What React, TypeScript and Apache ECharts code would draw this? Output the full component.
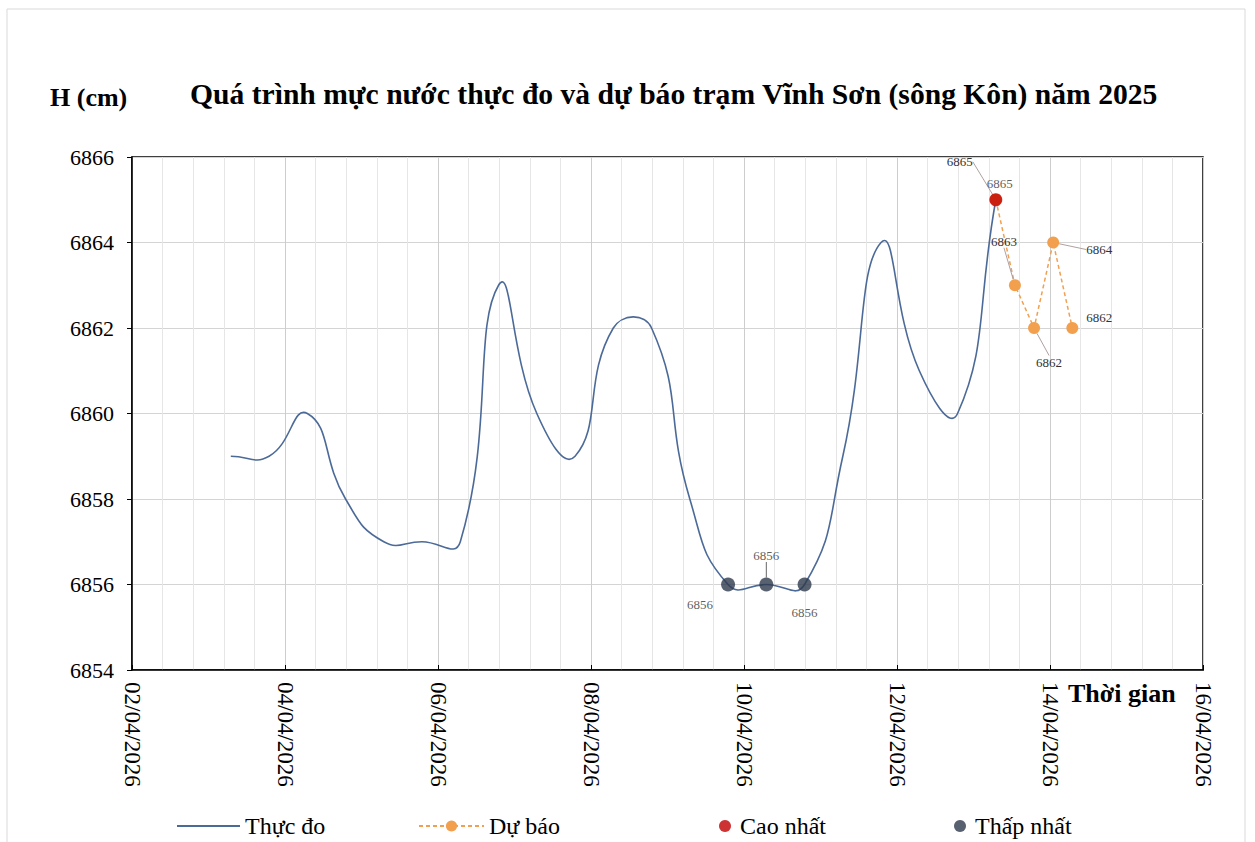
import { useEffect, useRef } from "react";
import * as echarts from "echarts";

const obsTimes = [
  "2026-04-03 07:00", "2026-04-03 19:00", "2026-04-04 07:00", "2026-04-04 19:00",
  "2026-04-05 07:00", "2026-04-05 19:00", "2026-04-06 07:00", "2026-04-06 19:00",
  "2026-04-07 07:00", "2026-04-07 19:00", "2026-04-08 07:00", "2026-04-08 19:00",
  "2026-04-09 07:00", "2026-04-09 19:00", "2026-04-10 07:00", "2026-04-10 19:00",
  "2026-04-11 07:00", "2026-04-11 19:00", "2026-04-12 07:00", "2026-04-12 19:00",
  "2026-04-13 07:00",
];
const obsValues = [
  6859, 6859, 6860, 6858, 6857, 6857, 6857, 6863, 6860, 6859, 6862, 6862,
  6858, 6856, 6856, 6856, 6859, 6864, 6861, 6860, 6865,
];

const fcTimes = ["2026-04-13 07:00", "2026-04-13 13:00", "2026-04-13 19:00", "2026-04-14 01:00", "2026-04-14 07:00"];
const fcValues = [6865, 6863, 6862, 6864, 6862];

const maxTimes = ["2026-04-13 07:00"];
const maxValues = [6865];

const minTimes = ["2026-04-09 19:00", "2026-04-10 07:00", "2026-04-10 19:00"];
const minValues = [6856, 6856, 6856];

const xMin = 2;
const xMax = 16;
const xStep = 2;
const yMin = 6854;
const yMax = 6866;
const yStep = 2;

const titleText = "Quá trình mực nước thực đo và dự báo trạm Vĩnh Sơn (sông Kôn) năm 2025";
const yName = "H (cm)";
const xName = "Thời gian";
const seriesNames = ["Thực đo", "Dự báo", "Cao nhất", "Thấp nhất"];

function toDay(t: string): number {
  const d = parseInt(t.slice(8, 10), 10);
  const h = parseInt(t.slice(11, 13), 10);
  const m = parseInt(t.slice(14, 16), 10);
  return d + h / 24 + m / 1440;
}

function fmtDay(v: number): string {
  const d = Math.round(v);
  return (d < 10 ? "0" + d : "" + d) + "/04/2026";
}

// Excel-like smoothed curve (Bezier through the points, no clamping)
function smoothPath(pts: number[][], s: number): string {
  const n = pts.length;
  let d = "M" + pts[0][0] + "," + pts[0][1];
  const cps = pts.map((p, i) => {
    const prev = pts[Math.max(0, i - 1)];
    const next = pts[Math.min(n - 1, i + 1)];
    const vx = next[0] - prev[0];
    const vy = next[1] - prev[1];
    const l0 = Math.hypot(p[0] - prev[0], p[1] - prev[1]);
    const l1 = Math.hypot(next[0] - p[0], next[1] - p[1]);
    const r = l0 + l1 > 0 ? l1 / (l0 + l1) : 0.5;
    return {
      out: [p[0] + vx * s * r, p[1] + vy * s * r],
      inn: [p[0] - vx * s * (1 - r), p[1] - vy * s * (1 - r)],
    };
  });
  for (let i = 0; i < n - 1; i++) {
    const a = cps[i].out;
    const b = cps[i + 1].inn;
    const p = pts[i + 1];
    d += " C" + a[0] + "," + a[1] + " " + b[0] + "," + b[1] + " " + p[0] + "," + p[1];
  }
  return d;
}

const FONT = "'Liberation Serif', 'Times New Roman', serif";
const OBS_COLOR = "#4C6A98";

export default function App() {
  const ref = useRef<HTMLDivElement>(null);

  useEffect(() => {
    if (!ref.current) return;
    const chart = echarts.init(ref.current, undefined, { renderer: "svg" });

    const obsPts = obsTimes.map((t, i) => [toDay(t), obsValues[i]]);

    const fcOffsets = [[-36, -38], [-11, -44], [15, 34], [46, 7], [27, -11]];
    const fcLeader = [true, true, true, true, false];
    const minOffsets = [[-28, 20], [0, -29], [0, 28]];
    const minLeader = [false, true, false];

    const labelStyle = {
      show: true,
      position: "inside" as const,
      fontFamily: FONT,
      fontSize: 13,
      color: "#333",
      formatter: (p: any) => String(p.value[1]),
    };

    const legendText = { fontFamily: FONT, fontSize: 24, color: "#000" };

    const option: any = {
      animation: false,
      backgroundColor: "#fff",
      title: {
        text: titleText,
        left: 185,
        top: 74,
        textStyle: { fontFamily: FONT, fontWeight: "bold", fontSize: 29.6, color: "#000" },
      },
      graphic: [
        {
          type: "rect",
          shape: { x: 7, y: 9, width: 1238, height: 845 },
          style: { fill: "none", stroke: "#d9d9d9", lineWidth: 1 },
          silent: true,
        },
        {
          type: "text",
          x: 50,
          y: 84,
          style: { text: yName, fontFamily: FONT, fontWeight: "bold", fontSize: 26, fill: "#000" },
        },
        {
          type: "text",
          x: 1068,
          y: 680,
          style: { text: xName, fontFamily: FONT, fontWeight: "bold", fontSize: 26, fill: "#000" },
        },
      ],
      legend: [
        {
          data: [{ name: seriesNames[0], icon: "rect" }],
          left: 172,
          top: 809,
          itemWidth: 63,
          itemHeight: 2,
          textStyle: legendText,
        },
        {
          data: [seriesNames[1]],
          left: 413,
          top: 809,
          itemWidth: 65,
          itemHeight: 14,
          textStyle: legendText,
        },
        {
          data: [{ name: seriesNames[2], icon: "circle" }],
          left: 714,
          top: 809,
          itemWidth: 12,
          itemHeight: 12,
          textStyle: { ...legendText, padding: [0, 0, 0, 4] },
        },
        {
          data: [{ name: seriesNames[3], icon: "circle" }],
          left: 949,
          top: 809,
          itemWidth: 12,
          itemHeight: 12,
          textStyle: { ...legendText, padding: [0, 0, 0, 4] },
        },
      ],
      grid: {
        left: 132,
        top: 157,
        width: 1071,
        height: 513,
        show: true,
        borderColor: "#000",
        borderWidth: 1.5,
        containLabel: false,
      },
      xAxis: {
        type: "value",
        min: xMin,
        max: xMax,
        interval: xStep,
        axisLine: { show: true, lineStyle: { color: "#000", width: 1.5 } },
        axisTick: { show: true, inside: true, length: 5, lineStyle: { color: "#000" } },
        axisLabel: {
          rotate: -90,
          margin: 12,
          fontFamily: FONT,
          fontSize: 23,
          color: "#000",
          formatter: fmtDay,
        },
        splitLine: { show: true, lineStyle: { color: "#cdcdcd", width: 1 } },
        minorTick: { show: false, splitNumber: 5 },
        minorSplitLine: { show: true, lineStyle: { color: "#e6e6e6", width: 1 } },
      },
      yAxis: {
        type: "value",
        min: yMin,
        max: yMax,
        interval: yStep,
        axisLine: { show: true, lineStyle: { color: "#000", width: 1.5 } },
        axisTick: { show: true, inside: false, length: 5, lineStyle: { color: "#000" } },
        axisLabel: {
          margin: 18,
          fontFamily: FONT,
          fontSize: 22,
          color: "#000",
          formatter: (v: number) => String(v),
        },
        splitLine: { show: true, lineStyle: { color: "#d4d4d4", width: 1 } },
      },
      series: [
        {
          name: seriesNames[0],
          type: "custom",
          data: obsPts,
          encode: { x: 0, y: 1 },
          itemStyle: { color: OBS_COLOR },
          clip: true,
          z: 2,
          renderItem: (params: any, api: any) => {
            if (params.dataIndex !== 0) return null;
            const pts = obsPts.map((p) => api.coord(p));
            return {
              type: "path",
              shape: { pathData: smoothPath(pts, 0.5) },
              style: { fill: "none", stroke: OBS_COLOR, lineWidth: 1.6 },
            };
          },
        },
        {
          name: seriesNames[1],
          type: "line",
          data: fcTimes.map((t, i) => ({
            value: [toDay(t), fcValues[i]],
            labelLine: { show: fcLeader[i] },
          })),
          symbol: "circle",
          symbolSize: 12,
          showAllSymbol: true,
          lineStyle: { color: "#F0A050", width: 1.5, type: [4, 3] },
          itemStyle: { color: "#F2A04E" },
          label: labelStyle,
          labelLine: { show: true, length2: 0, lineStyle: { color: "#b0a0a0", width: 1 } },
          labelLayout: (p: any) => ({ dx: fcOffsets[p.dataIndex][0], dy: fcOffsets[p.dataIndex][1] }),
          z: 3,
        },
        {
          name: seriesNames[2],
          type: "scatter",
          data: maxTimes.map((t, i) => [toDay(t), maxValues[i]]),
          symbolSize: 13,
          itemStyle: { color: "#C00000" },
          label: labelStyle,
          labelLayout: () => ({ dx: 4, dy: -16 }),
          z: 4,
        },
        {
          name: seriesNames[3],
          type: "scatter",
          data: minTimes.map((t, i) => ({
            value: [toDay(t), minValues[i]],
            labelLine: { show: minLeader[i] },
          })),
          symbolSize: 14,
          itemStyle: { color: "#2E3A4C" },
          label: labelStyle,
          labelLine: { show: true, length2: 0, lineStyle: { color: "#666", width: 1 } },
          labelLayout: (p: any) => ({ dx: minOffsets[p.dataIndex][0], dy: minOffsets[p.dataIndex][1] }),
          z: 4,
        },
      ],
    };

    chart.setOption(option);
    return () => chart.dispose();
  }, []);

  return (
    <div
      ref={ref}
      style={{ position: "absolute", left: 0, top: 0, width: 1255, height: 842 }}
    />
  );
}
